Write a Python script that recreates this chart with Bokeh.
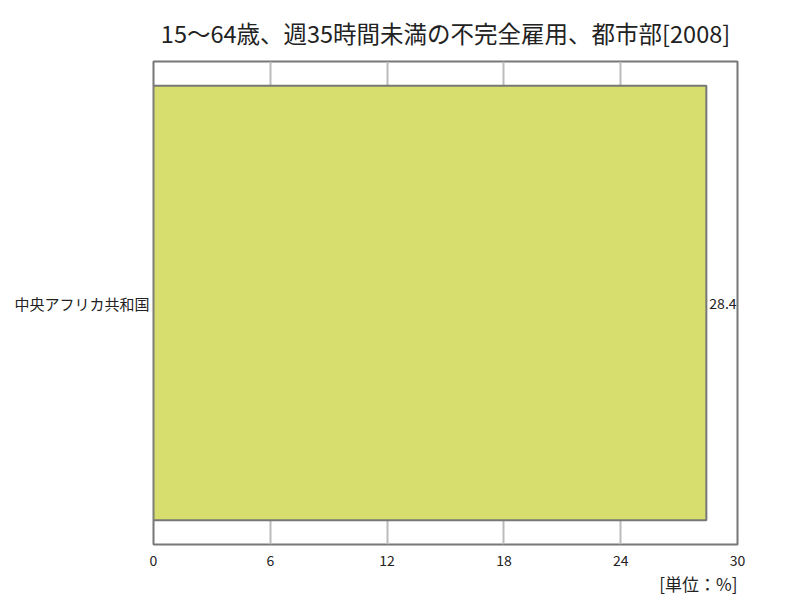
from bokeh.plotting import figure
from bokeh.models import ColumnDataSource, FixedTicker, Title
from bokeh.core.properties import value
from bokeh.embed import file_html
from bokeh.resources import INLINE

countries = ["中央アフリカ共和国"]
values = [28.4]
x_ticks = [0, 6, 12, 18, 24, 30]
title_text = "15〜64歳、週35時間未満の不完全雇用、都市部[2008]"
unit_text = "[単位：%]"

FONT = "Noto Sans CJK JP"

src = ColumnDataSource(dict(c=countries, v=values, lab=[f"{v:.1f}" for v in values]))

p = figure(width=792, height=596, y_range=countries, x_range=(0, 30),
           output_backend="svg", toolbar_location=None,
           min_border_left=153, min_border_right=55, min_border_top=61, min_border_bottom=10)

p.title.text = title_text
p.title.align = "center"
p.title.text_font = FONT
p.title.text_font_size = "23.5px"
p.title.text_font_style = "normal"
p.title.text_color = "#222222"
p.title.text_line_height = 0.8
p.title.standoff = 23

p.hbar(y="c", right="v", left=0, height=0.9, source=src,
       fill_color="#d8de6e", line_color="#777777", line_width=2)

p.text(x="v", y="c", text="lab", source=src, x_offset=3,
       text_align="left", text_baseline="middle",
       text_font=value(FONT), text_font_size="14px", text_color="#222222")

p.xaxis.ticker = FixedTicker(ticks=x_ticks)
p.xaxis.axis_line_color = None
p.xaxis.major_tick_line_color = None
p.xaxis.major_tick_out = 0
p.xaxis.major_tick_in = 0
p.xaxis.minor_tick_line_color = None
p.xaxis.major_label_text_font = FONT
p.xaxis.major_label_text_font_size = "14px"
p.xaxis.major_label_text_color = "#222222"
p.xaxis.major_label_standoff = 10

p.yaxis.axis_line_color = None
p.yaxis.major_tick_line_color = None
p.yaxis.major_tick_out = 0
p.yaxis.major_tick_in = 0
p.yaxis.minor_tick_line_color = None
p.yaxis.major_label_text_font = FONT
p.yaxis.major_label_text_font_size = "15px"
p.yaxis.major_label_text_color = "#222222"
p.yaxis.major_label_standoff = 4

p.xgrid.grid_line_color = "#bbbbbb"
p.xgrid.grid_line_width = 2
p.ygrid.grid_line_color = None

p.outline_line_color = "#777777"
p.outline_line_width = 2

p.add_layout(Title(text=unit_text, align="right", text_font=FONT,
                   text_font_size="17px", text_font_style="normal",
                   text_color="#222222", standoff=1), "below")

open("out.html", "w").write(file_html(p, INLINE))
